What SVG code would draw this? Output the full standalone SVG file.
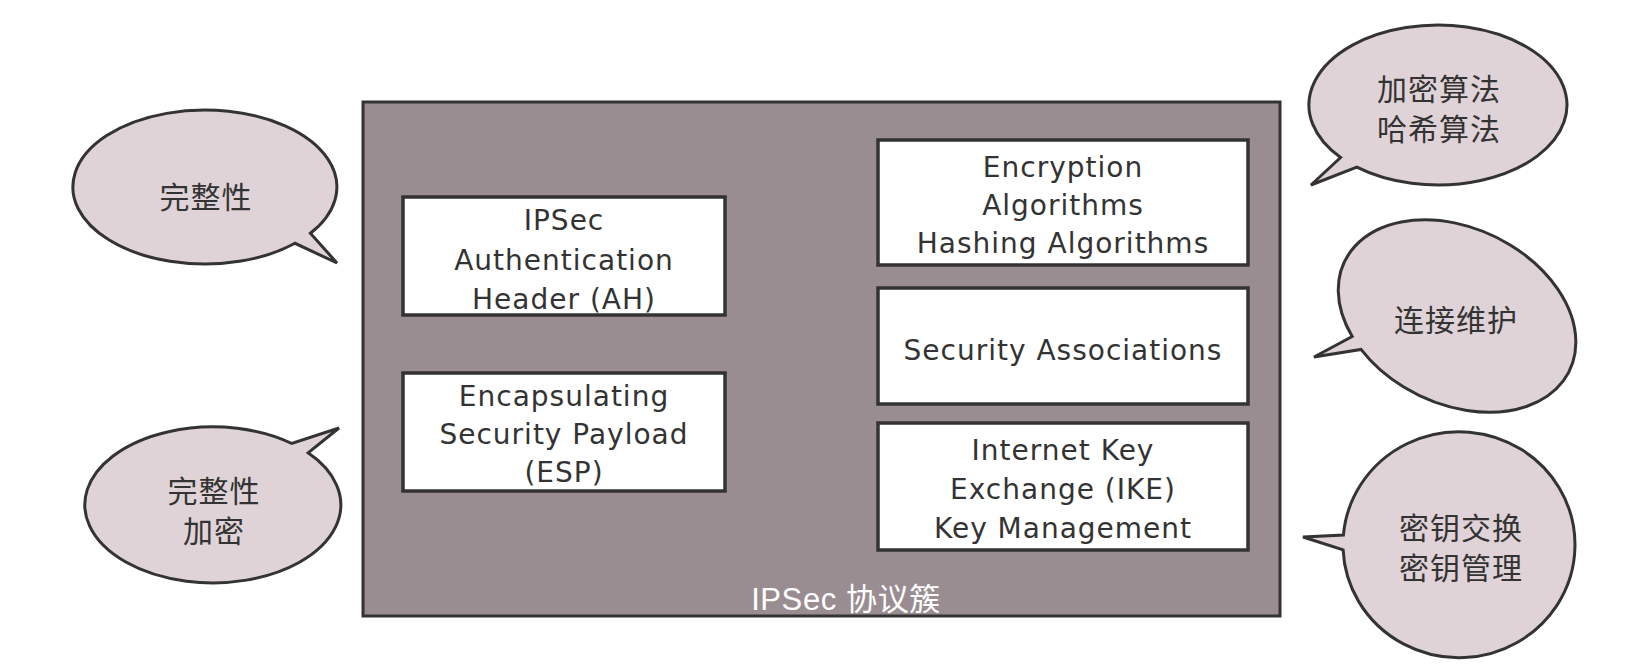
<svg xmlns="http://www.w3.org/2000/svg" width="1652" height="668" viewBox="0 0 1652 668">
<style>
.frame{fill:#998d92;stroke:#333;stroke-width:3}
.box{fill:#fff;stroke:#333;stroke-width:3.5}
.bubble{fill:#e0d3d8;stroke:#333;stroke-width:3;stroke-linejoin:miter}
.bt{font-family:"DejaVu Sans","Noto Sans",sans-serif;font-size:28px;letter-spacing:1px;fill:#333;text-anchor:middle}
.ct{font-family:"Noto Sans CJK SC","Noto Sans",sans-serif;font-size:30px;letter-spacing:1px;fill:#333;text-anchor:middle}
.lbl{font-family:"Liberation Sans","Noto Sans CJK SC",sans-serif;font-size:31px;letter-spacing:0.6px;fill:#fff;text-anchor:middle}
</style>
<rect width="1652" height="668" fill="#fff"/>
<g id="ipsec-suite">
<rect class="frame" x="363" y="102" width="917" height="514"/>
</g>
<g id="ah">
<rect class="box" x="403" y="197" width="322" height="118"/>
<text class="bt" x="564" y="230">IPSec</text>
<text class="bt" x="564" y="270">Authentication</text>
<text class="bt" x="564" y="309">Header (AH)</text>
</g>
<g id="esp">
<rect class="box" x="403" y="373" width="322" height="118"/>
<text class="bt" x="564" y="406">Encapsulating</text>
<text class="bt" x="564" y="444">Security Payload</text>
<text class="bt" x="564" y="482">(ESP)</text>
</g>
<g id="algorithms">
<rect class="box" x="878" y="140" width="370" height="125"/>
<text class="bt" x="1063" y="177">Encryption</text>
<text class="bt" x="1063" y="215">Algorithms</text>
<text class="bt" x="1063" y="253">Hashing Algorithms</text>
</g>
<g id="sa">
<rect class="box" x="878" y="288" width="370" height="116"/>
<text class="bt" x="1063" y="360">Security Associations</text>
</g>
<g id="ike">
<rect class="box" x="878" y="423" width="370" height="127"/>
<text class="bt" x="1063" y="460">Internet Key</text>
<text class="bt" x="1063" y="499">Exchange (IKE)</text>
<text class="bt" x="1063" y="538">Key Management</text>
</g>
<g id="suite-label">
<text class="lbl" x="846" y="610">IPSec 协议簇</text>
</g>
<g id="bubble-ah">
<path class="bubble" d="M 310.4 233.3 A 132 77 0 1 0 295.0 243.3 L 337 263 Z"/>
<text class="ct" x="206" y="208">完整性</text>
</g>
<g id="bubble-esp">
<path class="bubble" d="M 291.8 443.5 A 128 78 0 1 0 308.1 452.8 L 339 428 Z"/>
<text class="ct" x="214" y="502">完整性</text>
<text class="ct" x="214" y="542">加密</text>
</g>
<g id="bubble-algorithms">
<path class="bubble" d="M 1340.6 157.5 A 129 80 0 1 1 1356.8 167.2 L 1311 185 Z"/>
<text class="ct" x="1439" y="100">加密算法</text>
<text class="ct" x="1439" y="140">哈希算法</text>
</g>
<g id="bubble-sa">
<path class="bubble" d="M 1352.2 336.5 A 125 88 26 1 1 1361 349.4 L 1314 357 Z"/>
<text class="ct" x="1456" y="331">连接维护</text>
</g>
<g id="bubble-ike">
<path class="bubble" d="M 1343.4 535.1 A 116 113 0 1 1 1343.1 549.9 L 1303 537 Z"/>
<text class="ct" x="1461" y="539">密钥交换</text>
<text class="ct" x="1461" y="579">密钥管理</text>
</g>
<g id="connectors"/>
</svg>
